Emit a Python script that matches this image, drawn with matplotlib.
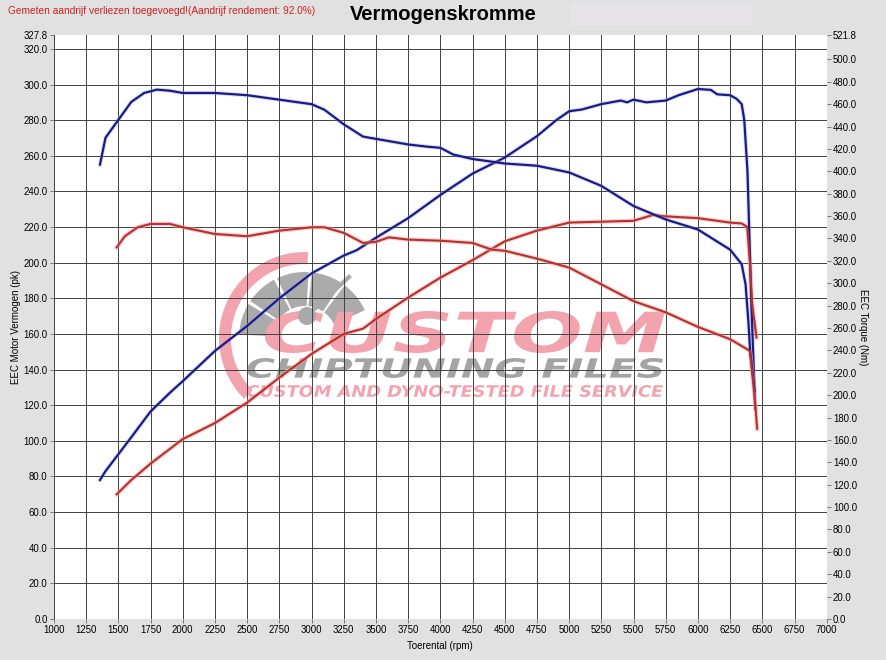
import matplotlib
matplotlib.use("Agg")
import matplotlib.pyplot as plt
import matplotlib.transforms as mtransforms
from matplotlib.textpath import TextPath
from matplotlib.patches import PathPatch, Wedge, Circle, Rectangle
from matplotlib.font_manager import FontProperties

# --- data ---
# tuned (blue) power, pk
rpm_pow_tuned = [1357, 1400, 1500, 1600, 1750, 1900, 2000, 2250, 2500, 2750, 3000, 3250, 3350, 3500,
                 3750, 4000, 4250, 4500, 4750, 4900, 5000, 5100, 5250, 5400, 5450, 5500, 5600, 5750,
                 5850, 6000, 6100, 6150, 6250, 6300, 6340, 6360, 6385, 6400, 6415, 6445]
pow_tuned = [78, 83, 92.5, 102, 116.5, 127, 133.5, 150.5, 164.5, 180, 194, 204, 207, 214,
             225, 238, 250, 259, 271, 280, 285, 286, 289, 291, 290, 291.5, 290, 291,
             294, 297.5, 297, 294.5, 294, 292, 289, 280, 251, 214, 177, 118]

# tuned (blue) torque, Nm
rpm_trq_tuned = [1357, 1400, 1500, 1600, 1700, 1800, 1900, 2000, 2250, 2500, 2750, 3000, 3100, 3250,
                 3400, 3500, 3750, 3900, 4000, 4100, 4250, 4500, 4750, 5000, 5250, 5500, 5750, 6000,
                 6250, 6340, 6370, 6393, 6405, 6440]
trq_tuned = [406, 430, 446, 462, 470, 473, 472, 470, 470, 468, 464, 460, 455, 442,
             431, 429, 424, 422, 421, 415, 411, 407, 405, 399, 387, 369, 357, 348,
             330, 317, 299, 264, 240, 204]

# stock (red) power, pk
rpm_pow_stock = [1487, 1600, 1746, 2000, 2250, 2500, 2750, 3000, 3250, 3400, 3500, 3750, 4000, 4250,
                 4500, 4750, 5000, 5250, 5500, 5650, 5750, 6000, 6100, 6250, 6340, 6383, 6401, 6421, 6455]
pow_stock = [70, 78, 87, 101, 110, 121.5, 135.5, 148.8, 160, 163, 168.4, 180.4, 191.6, 201.4,
             212, 218, 222.5, 223, 223.5, 226.8, 226, 225, 224, 222.5, 222, 220, 203, 177, 158]

# stock (red) torque, Nm
rpm_trq_stock = [1487, 1550, 1650, 1750, 1900, 2000, 2250, 2500, 2750, 3000, 3100, 3250, 3400, 3500,
                 3600, 3750, 4000, 4250, 4400, 4500, 4750, 5000, 5250, 5500, 5750, 6000, 6250, 6383,
                 6405, 6440, 6460]
trq_stock = [332, 342, 350, 353, 353, 350, 344, 342, 347, 350, 350, 345, 336, 337,
             341, 339, 338, 336, 330, 329, 322, 314, 299, 284, 274, 261, 250, 241,
             239, 199, 170]

x_ticks = list(range(1000, 7001, 250))
pk_ticks = [i * 20 for i in range(17)] + [327.8]
nm_ticks = [i * 20 for i in range(26)] + [521.8]

W, H, DPI = 887, 660, 100
BLUE = '#1b1b86'
RED = '#b8302c'

plt.rcParams['font.family'] = ['Liberation Sans', 'DejaVu Sans']

fig = plt.figure(figsize=(W / DPI, H / DPI), dpi=DPI)
fig.patch.set_facecolor('#e1e1e1')

L, R, T, B = 54, 826.7, 35, 619
ax = fig.add_axes([L / W, (H - B) / H, (R - L) / W, (B - T) / H])
ax.set_facecolor('white')
ax.set_xlim(1000, 7000)
ax.set_ylim(0, 327.8)
for s in ax.spines.values():
    s.set_visible(False)

# grid
for xt in x_ticks:
    ax.axvline(xt, color='#404040', lw=0.7, zorder=1)
for yt in pk_ticks[:-1]:
    ax.axhline(yt, color='#404040', lw=0.7, zorder=1)

ax.set_xticks(x_ticks)
ax.set_xticklabels([str(v) for v in x_ticks])
ax.set_yticks(pk_ticks)
ax.set_yticklabels([f'{v:.1f}' for v in pk_ticks])
ax.tick_params(axis='both', labelsize=6.9, length=3, width=0.6, color='#666666', pad=1.5)

ax2 = ax.twinx()
ax2.set_ylim(0, 521.8)
ax2.set_yticks(nm_ticks)
ax2.set_yticklabels([f'{v:.1f}' for v in nm_ticks])
ax2.tick_params(axis='y', labelsize=6.9, length=3, width=0.6, color='#666666', pad=1.5)
for s in ax2.spines.values():
    s.set_visible(False)

ax.set_xlabel('Toerental (rpm)', fontsize=7, labelpad=4)
ax.set_ylabel('EEC Motor Vermogen (pk)', fontsize=7, labelpad=2)
ax2.set_ylabel('EEC Torque (Nm)', fontsize=7, rotation=270, labelpad=8)

# --- watermark (pixel coords, top-left origin) ---
px = mtransforms.Affine2D().scale(1 / DPI) + fig.dpi_scale_trans
fp = FontProperties(family='DejaVu Sans', weight='bold', style='oblique')


def fit_text(s, box, color):
    x0, y0, x1, y1 = box
    tp = TextPath((0, 0), s, size=10, prop=fp)
    ext = tp.get_extents()
    tr = (mtransforms.Affine2D().translate(-ext.x0, -ext.y0)
          .scale((x1 - x0) / ext.width, (y1 - y0) / ext.height)
          .translate(x0, H - y1)) + px
    p = PathPatch(tp, transform=tr, fc=color, ec='none', zorder=0.5)
    ax.add_artist(p)


cx, cy = 305, H - 338
ax.add_artist(Wedge((cx, cy), 86, 88, 225, width=12, transform=px, fc='#f2a3ae', ec='none', zorder=0.5))
for a0 in range(25, 180, 31):
    ax.add_artist(Wedge((cx, cy), 66, a0, a0 + 28, width=34, transform=px, fc='#ababab', ec='none', zorder=0.5))
ax.add_artist(Circle((307, H - 316), 9, transform=px, fc='#a9a9a9', ec='none', zorder=0.6))
ax.plot([307, 349], [H - 316, H - 277], transform=px, color='#a9a9a9', lw=3, zorder=0.6)
fit_text('CUSTOM', (265, 311, 665, 353), '#f2a3ae')
fit_text('CHIPTUNING FILES', (247, 358, 663, 378), '#a4a4a4')
fit_text('CUSTOM AND DYNO-TESTED FILE SERVICE', (247, 385, 663, 397), '#f2a3ae')

# --- curves ---
ax.plot(rpm_pow_tuned, pow_tuned, color='#9aa0e0', lw=3, alpha=0.35, zorder=2)
ax.plot(rpm_pow_tuned, pow_tuned, color=BLUE, lw=1.6, zorder=3)
ax2.plot(rpm_trq_tuned, trq_tuned, color='#9aa0e0', lw=3, alpha=0.35, zorder=2)
ax2.plot(rpm_trq_tuned, trq_tuned, color=BLUE, lw=1.6, zorder=3)
ax.plot(rpm_pow_stock, pow_stock, color='#f4a0a0', lw=3.2, alpha=0.5, zorder=2)
ax.plot(rpm_pow_stock, pow_stock, color=RED, lw=1.5, zorder=3)
ax2.plot(rpm_trq_stock, trq_stock, color='#f4a0a0', lw=3.2, alpha=0.5, zorder=2)
ax2.plot(rpm_trq_stock, trq_stock, color=RED, lw=1.5, zorder=3)

# --- header ---
fig.add_artist(Rectangle((570 / W, 1 - 26 / H), 182 / W, 23 / H, transform=fig.transFigure,
                         fc='#e8e3e6', ec='none'))
fig.text(443 / W, 1 - 14 / H, 'Vermogenskromme', ha='center', va='center',
         fontsize=14.5, fontweight='bold', color='black')
fig.text(8 / W, 1 - 11 / H, 'Gemeten aandrijf verliezen toegevoegd!(Aandrijf rendement: 92.0%)',
         ha='left', va='center', fontsize=7.3, color='#d02020')

fig.savefig('out.png', dpi=DPI, facecolor=fig.get_facecolor())
